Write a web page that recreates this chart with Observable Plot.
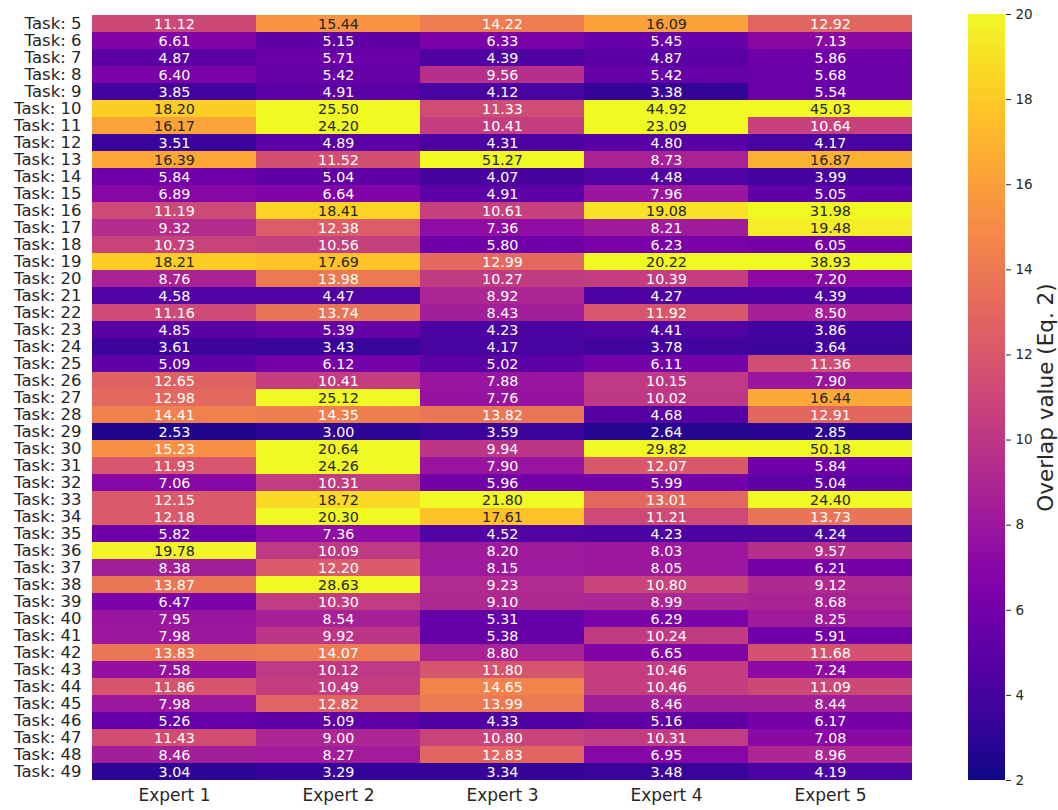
<!DOCTYPE html>
<html>
<head>
<meta charset="utf-8">
<script src="https://cdn.jsdelivr.net/npm/d3@7"></script>
<script src="https://cdn.jsdelivr.net/npm/@observablehq/plot@0.6"></script>
<style>
  html, body { margin: 0; padding: 0; background: #fff; }
  #wrap { position: relative; width: 1058px; height: 810px; font-family: "DejaVu Sans", sans-serif; }
  #wrap svg { position: absolute; top: 0; overflow: visible; }
</style>
</head>
<body>
<div id="wrap"></div>
<script>
const experts = ["Expert 1", "Expert 2", "Expert 3", "Expert 4", "Expert 5"];
const taskNumbers = [5, 6, 7, 8, 9, 10, 11, 12, 13, 14, 15, 16, 17, 18, 19, 20, 21, 22, 23, 24, 25, 26, 27,
  28, 29, 30, 31, 32, 33, 34, 35, 36, 37, 38, 39, 40, 41, 42, 43, 44, 45, 46, 47, 48, 49];
const expert1 = [11.12, 6.61, 4.87, 6.40, 3.85, 18.20, 16.17, 3.51, 16.39, 5.84, 6.89, 11.19, 9.32, 10.73, 18.21, 8.76, 4.58, 11.16, 4.85, 3.61, 5.09, 12.65, 12.98, 14.41, 2.53, 15.23, 11.93, 7.06, 12.15, 12.18, 5.82, 19.78, 8.38, 13.87, 6.47, 7.95, 7.98, 13.83, 7.58, 11.86, 7.98, 5.26, 11.43, 8.46, 3.04];
const expert2 = [15.44, 5.15, 5.71, 5.42, 4.91, 25.50, 24.20, 4.89, 11.52, 5.04, 6.64, 18.41, 12.38, 10.56, 17.69, 13.98, 4.47, 13.74, 5.39, 3.43, 6.12, 10.41, 25.12, 14.35, 3.00, 20.64, 24.26, 10.31, 18.72, 20.30, 7.36, 10.09, 12.20, 28.63, 10.30, 8.54, 9.92, 14.07, 10.12, 10.49, 12.82, 5.09, 9.00, 8.27, 3.29];
const expert3 = [14.22, 6.33, 4.39, 9.56, 4.12, 11.33, 10.41, 4.31, 51.27, 4.07, 4.91, 10.61, 7.36, 5.80, 12.99, 10.27, 8.92, 8.43, 4.23, 4.17, 5.02, 7.88, 7.76, 13.82, 3.59, 9.94, 7.90, 5.96, 21.80, 17.61, 4.52, 8.20, 8.15, 9.23, 9.10, 5.31, 5.38, 8.80, 11.80, 14.65, 13.99, 4.33, 10.80, 12.83, 3.34];
const expert4 = [16.09, 5.45, 4.87, 5.42, 3.38, 44.92, 23.09, 4.80, 8.73, 4.48, 7.96, 19.08, 8.21, 6.23, 20.22, 10.39, 4.27, 11.92, 4.41, 3.78, 6.11, 10.15, 10.02, 4.68, 2.64, 29.82, 12.07, 5.99, 13.01, 11.21, 4.23, 8.03, 8.05, 10.80, 8.99, 6.29, 10.24, 6.65, 10.46, 10.46, 8.46, 5.16, 10.31, 6.95, 3.48];
const expert5 = [12.92, 7.13, 5.86, 5.68, 5.54, 45.03, 10.64, 4.17, 16.87, 3.99, 5.05, 31.98, 19.48, 6.05, 38.93, 7.20, 4.39, 8.50, 3.86, 3.64, 11.36, 7.90, 16.44, 12.91, 2.85, 50.18, 5.84, 5.04, 24.40, 13.73, 4.24, 9.57, 6.21, 9.12, 8.68, 8.25, 5.91, 11.68, 7.24, 11.09, 8.44, 6.17, 7.08, 8.96, 4.19];
const colorTicks = [2, 4, 6, 8, 10, 12, 14, 16, 18, 20];
const colorLabel = "Overlap value (Eq. 2)";

const series = [expert1, expert2, expert3, expert4, expert5];
const taskLabels = taskNumbers.map(n => `Task: ${n}`);
const data = [];
taskLabels.forEach((t, i) => {
  experts.forEach((e, j) => data.push({task: t, expert: e, value: series[j][i]}));
});

const vmin = colorTicks[0], vmax = colorTicks[colorTicks.length - 1];
function colorOf(v) {
  const t = Math.max(0, Math.min(1, (v - vmin) / (vmax - vmin)));
  return d3.interpolatePlasma(t);
}
function lum(c) {
  const rgb = d3.rgb(c);
  const f = x => { x /= 255; return x <= 0.03928 ? x / 12.92 : Math.pow((x + 0.055) / 1.055, 2.4); };
  return 0.2126 * f(rgb.r) + 0.7152 * f(rgb.g) + 0.0722 * f(rgb.b);
}
const textColor = d => lum(colorOf(d.value)) > 0.408 ? "#262626" : "#ffffff";

const font = "DejaVu Sans, sans-serif";
const main = Plot.plot({
  width: 1058,
  height: 810,
  marginLeft: 90,
  marginRight: 144,
  marginTop: 14,
  marginBottom: 30,
  style: {fontFamily: font, background: "white", overflow: "visible"},
  x: {domain: experts, padding: 0, label: null},
  y: {domain: taskLabels, padding: 0, label: null},
  color: {type: "linear", domain: [vmin, vmax], scheme: "plasma", clamp: true},
  marks: [
    Plot.cell(data, {x: "expert", y: "task", fill: "value", inset: 0}),
    Plot.text(data, {x: "expert", y: "task", text: d => d.value.toFixed(2), fill: textColor,
      fontSize: 14.3, fontFamily: font}),
    Plot.axisX({anchor: "bottom", tickSize: 0, tickPadding: 8, fontSize: 17, fill: "#262626", label: null}),
    Plot.axisY({anchor: "left", tickSize: 0, tickPadding: 9, fontSize: 16.5, fill: "#262626", label: null})
  ]
});
main.style.left = "0px";

const ramp = d3.range(0, 360).map(i => {
  const a = vmin + (vmax - vmin) * i / 360, b = vmin + (vmax - vmin) * (i + 1) / 360;
  return {a, b, m: (a + b) / 2};
});
const bar = Plot.plot({
  width: 90,
  height: 810,
  marginLeft: 0,
  marginRight: 53,
  marginTop: 14,
  marginBottom: 30,
  style: {fontFamily: font, background: "transparent", overflow: "visible"},
  x: {domain: [0, 1], axis: null},
  y: {domain: [vmin, vmax], axis: null},
  color: {type: "linear", domain: [vmin, vmax], scheme: "plasma", clamp: true},
  marks: [
    Plot.rect(ramp, {x1: 0, x2: 1, y1: "a", y2: "b", fill: "m", shapeRendering: "crispEdges"}),
    Plot.axisY(colorTicks, {anchor: "right", tickSize: 5, tickPadding: 5, fontSize: 13.5, fill: "#262626",
      stroke: "#262626", label: null}),
    Plot.text([colorLabel], {frameAnchor: "right", textAnchor: "middle", rotate: -90, dx: 41, fontSize: 21.5,
      fill: "#262626", fontFamily: font})
  ]
});
bar.style.left = "968px";

const wrap = document.getElementById("wrap");
wrap.appendChild(main);
wrap.appendChild(bar);
</script>
</body>
</html>
